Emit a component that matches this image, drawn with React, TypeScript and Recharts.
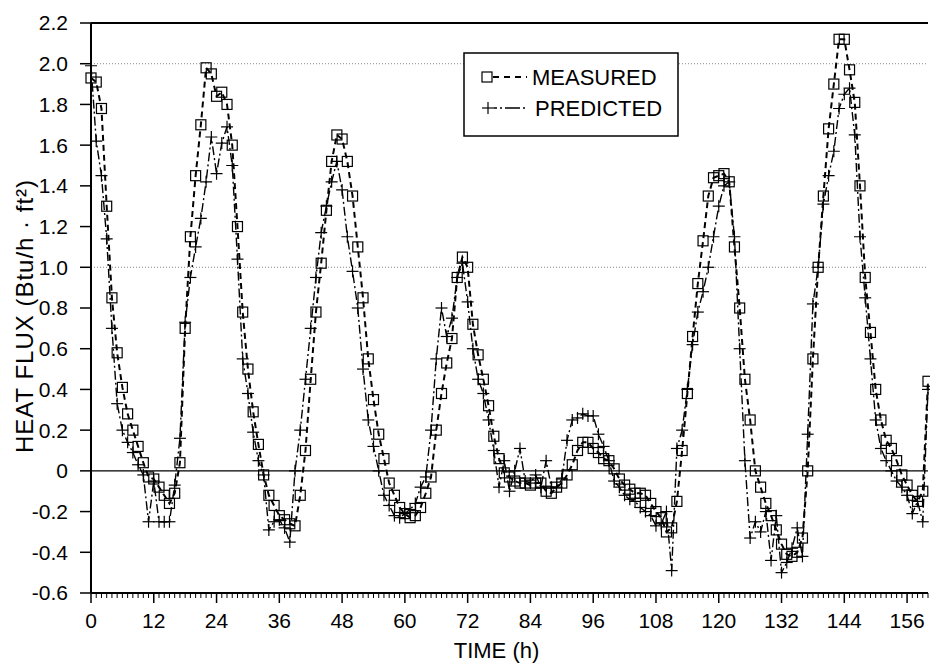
import React from 'react';
import { LineChart, Line, XAxis, YAxis, ReferenceLine, Legend, Label } from 'recharts';

// Heat flux (Btu/h·ft²), hourly from t = 0 h to t = 160 h
const MEASURED = [
  1.93, 1.91, 1.78, 1.30, 0.85, 0.58, 0.41, 0.28, 0.20, 0.12,
  0.04, -0.03, -0.04, -0.08, -0.12, -0.16, -0.11, 0.04, 0.70, 1.15,
  1.45, 1.70, 1.98, 1.95, 1.84, 1.86, 1.80, 1.60, 1.20, 0.78,
  0.50, 0.29, 0.13, -0.02, -0.12, -0.17, -0.22, -0.24, -0.26, -0.27,
  -0.12, 0.10, 0.45, 0.78, 1.02, 1.28, 1.52, 1.65, 1.63, 1.52,
  1.35, 1.10, 0.85, 0.55, 0.35, 0.18, 0.06, -0.06, -0.12, -0.18,
  -0.21, -0.23, -0.22, -0.18, -0.11, -0.03, 0.20, 0.38, 0.53, 0.65,
  0.95, 1.05, 1.00, 0.72, 0.57, 0.45, 0.32, 0.17, 0.06, -0.01,
  -0.03, -0.05, -0.06, -0.06, -0.07, -0.06, -0.06, -0.10, -0.11, -0.08,
  -0.06, -0.02, 0.03, 0.10, 0.14, 0.14, 0.11, 0.09, 0.06, 0.05,
  0.01, -0.04, -0.07, -0.09, -0.11, -0.11, -0.12, -0.16, -0.20, -0.23,
  -0.30, -0.28, -0.15, 0.10, 0.38, 0.66, 0.92, 1.13, 1.35, 1.44,
  1.45, 1.46, 1.42, 1.10, 0.80, 0.45, 0.25, 0.00, -0.08, -0.16,
  -0.22, -0.29, -0.36, -0.41, -0.42, -0.40, -0.33, 0.00, 0.55, 1.00,
  1.35, 1.68, 1.90, 2.12, 2.12, 1.97, 1.81, 1.40, 0.95, 0.68,
  0.40, 0.25, 0.15, 0.11, 0.05, -0.02, -0.07, -0.12, -0.15, -0.10,
  0.44,
];

const PREDICTED = [
  1.99, 1.62, 1.45, 1.14, 0.70, 0.33, 0.20, 0.14, 0.09, 0.03,
  -0.02, -0.25, -0.05, -0.25, -0.25, -0.25, -0.07, 0.16, 0.73, 0.95,
  1.10, 1.24, 1.42, 1.64, 1.46, 1.61, 1.69, 1.50, 1.04, 0.55,
  0.38, 0.19, 0.05, -0.02, -0.29, -0.25, -0.24, -0.28, -0.35, 0.00,
  0.20, 0.45, 0.70, 0.95, 1.17, 1.30, 1.42, 1.52, 1.38, 1.15,
  0.98, 0.80, 0.50, 0.25, 0.12, 0.00, -0.12, -0.17, -0.22, -0.23,
  -0.21, -0.19, -0.16, -0.08, -0.03, 0.20, 0.55, 0.80, 0.66, 0.75,
  0.95, 1.02, 0.83, 0.60, 0.45, 0.38, 0.25, 0.10, -0.08, 0.05,
  -0.10, 0.00, 0.11, -0.05, -0.06, -0.02, -0.08, 0.05, -0.08, -0.08,
  -0.04, 0.15, 0.25, 0.26, 0.28, 0.27, 0.27, 0.18, 0.12, 0.05,
  -0.05, -0.08, -0.12, -0.14, -0.15, -0.18, -0.20, -0.22, -0.27, -0.26,
  -0.20, -0.49, 0.11, 0.20, 0.40, 0.62, 0.78, 0.88, 1.00, 1.15,
  1.30, 1.40, 1.42, 1.15, 0.60, 0.05, -0.33, -0.25, -0.30, -0.20,
  -0.44, -0.22, -0.50, -0.45, -0.38, -0.28, -0.42, 0.18, 0.82, 1.00,
  1.31, 1.45, 1.57, 1.78, 1.85, 1.88, 1.65, 1.15, 0.85, 0.55,
  0.25, 0.11, 0.05, 0.00, -0.05, -0.08, -0.12, -0.21, -0.15, -0.25,
  0.40,
];

const X_MAJOR_TICKS = [0, 12, 24, 36, 48, 60, 72, 84, 96, 108, 120, 132, 144, 156];
const Y_TICKS = [-0.6, -0.4, -0.2, 0, 0.2, 0.4, 0.6, 0.8, 1.0, 1.2, 1.4, 1.6, 1.8, 2.0, 2.2];
const GRID_LEVELS = [1.0, 2.0];
const SERIES_NAMES = ['MEASURED', 'PREDICTED'];
const X_TITLE = 'TIME (h)';
const Y_TITLE = 'HEAT FLUX (Btu/h · ft²)';

const data = MEASURED.map((m, i) => ({ t: i, measured: m, predicted: PREDICTED[i] }));
const HOUR_TICKS = data.map((d) => d.t);

const FONT = '"Liberation Sans", Arial, Helvetica, sans-serif';

const XTick = (props: any) => {
  const { x, y, payload } = props;
  const major = X_MAJOR_TICKS.includes(payload.value);
  return (
    <g>
      <line x1={x} x2={x} y1={y} y2={y + (major ? 10 : 5)} stroke="#000" strokeWidth={major ? 1.5 : 1} />
      {major && (
        <text x={x} y={y + 35} textAnchor="middle" fontSize={21} fontFamily={FONT} fill="#000">
          {payload.value}
        </text>
      )}
    </g>
  );
};

const SquareDot = (props: any) => {
  const { cx, cy, index } = props;
  if (cx == null || cy == null) return <g key={`m-${index}`} />;
  return (
    <rect key={`m-${index}`} x={cx - 5} y={cy - 5} width={10} height={10} fill="none" stroke="#000" strokeWidth={1.2} />
  );
};

const PlusDot = (props: any) => {
  const { cx, cy, index } = props;
  if (cx == null || cy == null) return <g key={`p-${index}`} />;
  return (
    <g key={`p-${index}`}>
      <line x1={cx - 6} x2={cx + 6} y1={cy} y2={cy} stroke="#000" strokeWidth={1.2} />
      <line x1={cx} x2={cx} y1={cy - 6} y2={cy + 6} stroke="#000" strokeWidth={1.2} />
    </g>
  );
};

const LegendBox = () => (
  <svg width={216} height={85} style={{ display: 'block' }}>
    <rect x={1} y={1} width={214} height={83} fill="#fff" stroke="#000" strokeWidth={1.5} />
    <rect x={19} y={20} width={10} height={10} fill="none" stroke="#000" strokeWidth={1.2} />
    <line x1={30} x2={64} y1={25} y2={25} stroke="#000" strokeWidth={2} strokeDasharray="6 5" />
    <text x={69} y={33} fontSize={22} fontFamily={FONT} fill="#000">{SERIES_NAMES[0]}</text>
    <line x1={19} x2={31} y1={56} y2={56} stroke="#000" strokeWidth={1.2} />
    <line x1={25} x2={25} y1={50} y2={62} stroke="#000" strokeWidth={1.2} />
    <line x1={31} x2={64} y1={56} y2={56} stroke="#000" strokeWidth={1.4} strokeDasharray="3 3 2 3 12 0" />
    <text x={72} y={64} fontSize={22} fontFamily={FONT} fill="#000">{SERIES_NAMES[1]}</text>
  </svg>
);

const YTitle = (props: any) => {
  const vb = props.viewBox || {};
  const cy = (vb.y ?? 23) + (vb.height ?? 570) / 2 + 8;
  const cx = 33;
  return (
    <text x={cx} y={cy} transform={`rotate(-90, ${cx}, ${cy})`} textAnchor="middle" fontSize={24} letterSpacing={1} fontFamily={FONT} fill="#000">
      {Y_TITLE}
    </text>
  );
};

const XTitle = (props: any) => {
  const vb = props.viewBox || {};
  const cx = (vb.x ?? 91) + (vb.width ?? 837) / 2 - 13;
  return (
    <text x={cx} y={658} textAnchor="middle" fontSize={22} fontFamily={FONT} fill="#000">
      {X_TITLE}
    </text>
  );
};

export default function App() {
  return (
    <div style={{ position: 'absolute', left: 0, top: 0, background: '#fff' }}>
      <LineChart width={930} height={666} data={data} margin={{ top: 23, right: 2, bottom: 0, left: 0 }}>
        <ReferenceLine y={2.2} stroke="#000" strokeWidth={2} />
        {GRID_LEVELS.map((g) => (
          <ReferenceLine key={g} y={g} stroke="#888" strokeWidth={1} strokeDasharray="1 2" />
        ))}
        <ReferenceLine y={0} stroke="#000" strokeWidth={1.2} />
        <XAxis
          dataKey="t"
          type="number"
          domain={[0, 160]}
          ticks={HOUR_TICKS}
          interval={0}
          tickSize={0}
          tickMargin={0}
          tick={<XTick />}
          height={73}
          axisLine={{ stroke: '#000', strokeWidth: 2 }}
          tickLine={false}
        >
          <Label content={<XTitle />} />
        </XAxis>
        <YAxis
          type="number"
          domain={[-0.6, 2.2]}
          ticks={Y_TICKS}
          interval={0}
          width={91}
          tickSize={11}
          tickMargin={12}
          tickFormatter={(v: number) => (Math.abs(v) < 1e-9 ? '0' : v.toFixed(1))}
          tick={{ fontSize: 21, fontFamily: FONT, fill: '#000' }}
          axisLine={{ stroke: '#000', strokeWidth: 2 }}
          tickLine={{ stroke: '#000', strokeWidth: 1.5 }}
          allowDataOverflow
        >
          <Label content={<YTitle />} />
        </YAxis>
        <Legend
          layout="horizontal"
          verticalAlign="middle"
          align="center"
          content={<LegendBox />}
          wrapperStyle={{ position: 'absolute', left: 463, top: 52, width: 216, height: 85, bottom: 'auto' }}
        />
        <Line
          dataKey="measured"
          name={SERIES_NAMES[0]}
          type="linear"
          stroke="#000"
          strokeWidth={2}
          strokeDasharray="6 4"
          dot={(p: any) => <SquareDot key={`m-${p.index}`} {...p} />}
          activeDot={false}
          isAnimationActive={false}
        />
        <Line
          dataKey="predicted"
          name={SERIES_NAMES[1]}
          type="linear"
          stroke="#000"
          strokeWidth={1.4}
          strokeDasharray="9 3 2 3"
          dot={(p: any) => <PlusDot key={`p-${p.index}`} {...p} />}
          activeDot={false}
          isAnimationActive={false}
        />
      </LineChart>
    </div>
  );
}
